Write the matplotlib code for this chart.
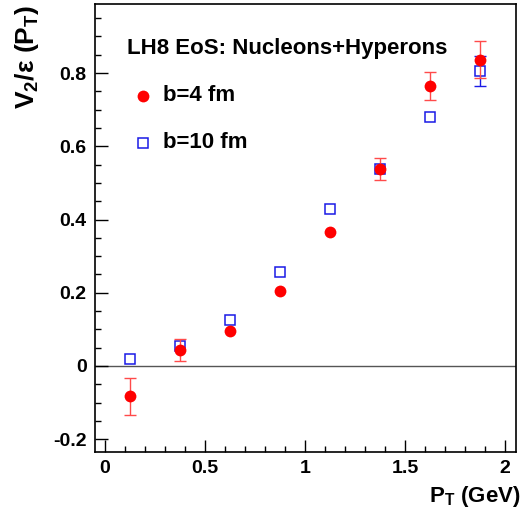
import matplotlib
matplotlib.use("Agg")
import matplotlib.pyplot as plt
from matplotlib.ticker import MultipleLocator

plt.rcParams['font.family'] = ['Liberation Sans', 'DejaVu Sans']
plt.rcParams['font.weight'] = 'bold'
plt.rcParams['mathtext.fontset'] = 'custom'
plt.rcParams['mathtext.rm'] = 'Liberation Sans'
plt.rcParams['mathtext.bf'] = 'Liberation Sans:bold'

# data
pt = [0.125, 0.375, 0.625, 0.875, 1.125, 1.375, 1.625, 1.875]
v2_b4 = [-0.083, 0.044, 0.095, 0.205, 0.367, 0.537, 0.764, 0.837]
err_b4 = [0.050, 0.030, 0.0, 0.0, 0.0, 0.030, 0.038, 0.050]
v2_b10 = [0.020, 0.055, 0.125, 0.256, 0.428, 0.538, 0.679, 0.807]
err_b10 = [0.0, 0.0, 0.0, 0.0, 0.0, 0.0, 0.0, 0.041]

title = "LH8 EoS: Nucleons+Hyperons"
labels = ["b=4 fm", "b=10 fm"]

red = '#ff0000'
red_err = '#ff4a4a'
blue = '#1a1ae6'


def draw_errors(ax, x, y, e, color, z):
    # only the bars that stick out of the marker
    keep = [i for i in range(len(x)) if e[i] > 0]
    ax.errorbar([x[i] for i in keep], [y[i] for i in keep], yerr=[e[i] for i in keep],
                fmt='none', ecolor=color, elinewidth=1.0, capsize=4.5, capthick=1.0, zorder=z)


fig = plt.figure(figsize=(5.26, 5.17), dpi=100)
ax = fig.add_axes([0.1806, 0.1257, 0.8004, 0.8675])

ax.axhline(0, color='#555555', lw=1.0, zorder=1)

draw_errors(ax, pt, v2_b10, err_b10, blue, 2)
ax.plot(pt, v2_b10, 's', ms=7.5, mfc='white', mec=blue, mew=1.1, zorder=3)
draw_errors(ax, pt, v2_b4, err_b4, red_err, 4)
ax.plot(pt, v2_b4, 'o', ms=8.5, color=red, mew=0, zorder=5)

ax.set_xlim(-0.05, 2.055)
ax.set_ylim(-0.235, 0.99)

ax.xaxis.set_major_locator(MultipleLocator(0.5))
ax.xaxis.set_minor_locator(MultipleLocator(0.1))
ax.yaxis.set_major_locator(MultipleLocator(0.2))
ax.yaxis.set_minor_locator(MultipleLocator(0.05))
ax.xaxis.set_major_formatter(lambda v, p: "%g" % round(v, 2))
ax.yaxis.set_major_formatter(lambda v, p: "%g" % round(v, 2))

ax.tick_params(which='both', direction='in', top=False, right=False, width=1.0)
ax.tick_params(which='major', length=9, labelsize=14, pad=6)
ax.tick_params(which='minor', length=4.5)
for lab in ax.get_xticklabels() + ax.get_yticklabels():
    lab.set_fontweight('bold')
for s in ax.spines.values():
    s.set_linewidth(1.2)

ax.text(0.075, 0.899, title, transform=ax.transAxes, fontsize=16, fontweight='bold',
        ha='left', va='center')
ax.plot([0.114], [0.794], transform=ax.transAxes, marker='o', ms=8.5, color=red, mew=0)
ax.plot([0.114], [0.689], transform=ax.transAxes, marker='s', ms=7.5, mfc='none',
        mec=blue, mew=1.1)
ax.text(0.1615, 0.794, labels[0], transform=ax.transAxes, fontsize=16, fontweight='bold',
        ha='left', va='center')
ax.text(0.1615, 0.689, labels[1], transform=ax.transAxes, fontsize=16, fontweight='bold',
        ha='left', va='center')

fig.text(0.052, 0.991, r"V$_{\mathbf{2}}$/$\mathrm{\varepsilon}$ (P$_{\mathbf{T}}$)", rotation=90,
         fontsize=19, fontweight='bold', ha='center', va='top')
fig.text(0.99, 0.04, r"P$_{\mathbf{T}}$ (GeV)", fontsize=16, fontweight='bold',
         ha='right', va='center')

fig.savefig("out.png", dpi=100)
